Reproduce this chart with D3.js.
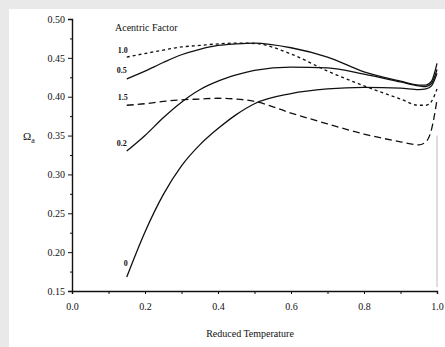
<!DOCTYPE html>
<html>
<head>
<meta charset="utf-8">
<script src="https://cdn.jsdelivr.net/npm/d3@7"></script>
<style>
  html, body { margin: 0; padding: 0; background: #e9e9e9; }
  svg { display: block; }
  text { font-family: "Liberation Serif", "Times New Roman", serif; fill: #111; }
</style>
</head>
<body>
<div id="chart"></div>
<script>
// values
const reducedTemp = [0.15, 0.2, 0.25, 0.3, 0.35, 0.4, 0.45, 0.5, 0.6, 0.7, 0.8, 0.9, 0.95, 0.97, 0.985, 1.0];
const omega0  = [0.168, 0.226, 0.274, 0.311, 0.338, 0.359, 0.377, 0.391, 0.404, 0.410, 0.412, 0.411, 0.409, 0.410, 0.414, 0.430];
const omega02 = [0.330, 0.350, 0.373, 0.393, 0.409, 0.420, 0.428, 0.434, 0.438, 0.437, 0.429, 0.419, 0.414, 0.413, 0.417, 0.435];
const omega05 = [0.423, 0.433, 0.444, 0.454, 0.461, 0.466, 0.468, 0.469, 0.463, 0.451, 0.432, 0.420, 0.415, 0.415, 0.420, 0.443];
const omega10 = [0.451, 0.4556, 0.460, 0.464, 0.466, 0.468, 0.469, 0.4685, 0.455, 0.433, 0.414, 0.397, 0.389, 0.389, 0.394, 0.410];
const omega15 = [0.389, 0.391, 0.394, 0.396, 0.397, 0.398, 0.397, 0.394, 0.379, 0.365, 0.352, 0.342, 0.338, 0.342, 0.358, 0.396];
const acentric = ["0", "0.2", "0.5", "1.0", "1.5"];
const xTicks = [0.0, 0.2, 0.4, 0.6, 0.8, 1.0];
const yTicks = [0.15, 0.20, 0.25, 0.30, 0.35, 0.40, 0.45, 0.50];

const width = 445;
const height = 347;

const svg = d3.select("#chart").append("svg")
    .attr("width", width)
    .attr("height", height);

// white paper area (scan border is grey)
svg.append("rect")
    .attr("x", 9).attr("y", 9)
    .attr("width", width - 9).attr("height", height - 9)
    .attr("fill", "#fff");

const x = d3.scaleLinear().domain([0, 1]).range([72, 437]);
const y = d3.scaleLinear().domain([0.15, 0.50]).range([291, 19]);

// axes
const xAxis = d3.axisBottom(x)
    .tickValues(d3.range(0, 1.01, 0.1))
    .tickSize(3)
    .tickFormat(d => xTicks.some(t => Math.abs(t - d) < 1e-6) ? d3.format(".1f")(d) : "");

const gx = svg.append("g")
    .attr("transform", `translate(0, ${y(0.15)})`)
    .call(xAxis);
gx.select(".domain").attr("stroke", "#111").attr("stroke-width", 1.4);
gx.selectAll(".tick line").attr("stroke", "#111");
gx.selectAll("text").attr("dy", "1.25em").style("font-size", "10px");

const yAxis = d3.axisLeft(y)
    .tickValues(d3.range(0.15, 0.5001, 0.025))
    .tickSize(4)
    .tickFormat(d => yTicks.some(t => Math.abs(t - d) < 1e-6) ? d3.format(".2f")(d) : "");

const gy = svg.append("g")
    .attr("transform", `translate(${x(0)}, 0)`)
    .call(yAxis);
gy.select(".domain").attr("stroke", "#111").attr("stroke-width", 1.4);
gy.selectAll(".tick line")
    .attr("stroke", "#111")
    .attr("x2", (d) => yTicks.some(t => Math.abs(t - d) < 1e-6) ? -4 : -2);
gy.selectAll("text").attr("x", -7).style("font-size", "10px");

// faint vertical trace at Tr = 1
svg.append("line")
    .attr("x1", x(1)).attr("x2", x(1))
    .attr("y1", y(0.35)).attr("y2", y(0.155))
    .attr("stroke", "#bbb")
    .attr("stroke-width", 1);

// curves
const series = [
    { name: acentric[0], values: omega0,  dash: null,  dx: -1, dy: -11 },
    { name: acentric[1], values: omega02, dash: null,  dx: -5, dy: -5 },
    { name: acentric[2], values: omega05, dash: null,  dx: -5, dy: -6 },
    { name: acentric[3], values: omega10, dash: "3,3", dx: -4, dy: -4 },
    { name: acentric[4], values: omega15, dash: "7,4", dx: -4, dy: -5 }
];

const line = d3.line()
    .x(d => x(d[0]))
    .y(d => y(d[1]))
    .curve(d3.curveMonotoneX);

series.forEach(s => {
    const pts = reducedTemp.map((t, i) => [t, s.values[i]]);
    svg.append("path")
        .datum(pts)
        .attr("d", line)
        .attr("fill", "none")
        .attr("stroke", "#111")
        .attr("stroke-width", 1.3)
        .attr("stroke-dasharray", s.dash);

    svg.append("text")
        .attr("x", x(pts[0][0]) + s.dx)
        .attr("y", y(pts[0][1]) + s.dy)
        .attr("text-anchor", "middle")
        .style("font-size", "8px")
        .style("font-weight", "bold")
        .text(s.name);
});

// titles
svg.append("text")
    .attr("x", 115).attr("y", 31)
    .style("font-size", "10px")
    .text("Acentric Factor");

svg.append("text")
    .attr("x", 250).attr("y", 337)
    .attr("text-anchor", "middle")
    .style("font-size", "10px")
    .text("Reduced Temperature");

const yl = svg.append("text")
    .attr("x", 23).attr("y", 140)
    .style("font-size", "11px");
yl.append("tspan").text("Ω");
yl.append("tspan").attr("dy", 3).style("font-size", "8px").text("a");
</script>
</body>
</html>
